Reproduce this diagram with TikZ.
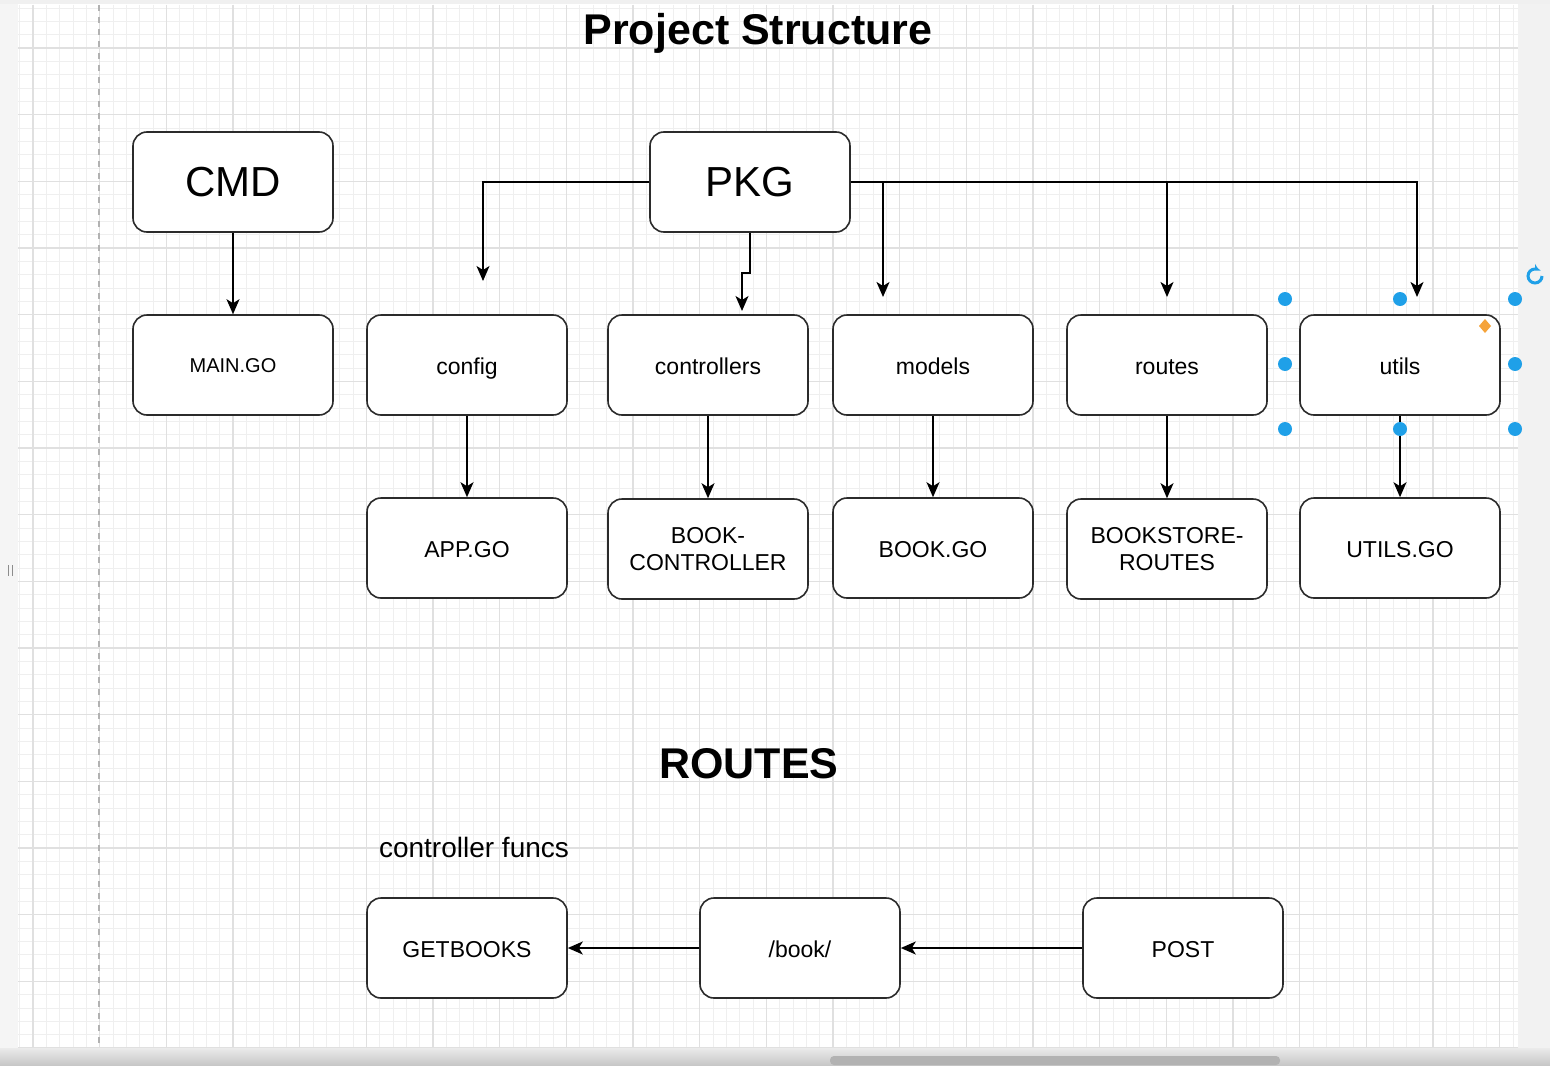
\documentclass[tikz,border=0pt]{standalone}
\usepackage{fontspec}
\setmainfont{Liberation Sans}
\usetikzlibrary{arrows.meta}
\definecolor{gridminor}{HTML}{EFEFEF}
\definecolor{gridmajor}{HTML}{E0E0E0}
\definecolor{boxline}{HTML}{2B2B2B}
\definecolor{handle}{HTML}{1FA0E8}
\definecolor{handleor}{HTML}{F5A33A}
\begin{document}
\begin{tikzpicture}[x=0.5pt,y=-0.5pt,
  box2/.style={draw=boxline,line width=0.8pt,fill=white,rounded corners=7pt,
    minimum width=100pt,minimum height=50pt,inner sep=0pt,align=center,
    font=\fontsize{11.5}{13.5}\selectfont},
  box/.style={box2,text height=11.8pt,text depth=2.44pt},
  bigbox/.style={box,font=\fontsize{21}{24}\selectfont,text height=19pt,text depth=4.45pt},
  smallbox/.style={box,font=\fontsize{10}{12}\selectfont,text height=9.6pt,text depth=2.12pt},
  arr/.style={draw=black,line width=0.75pt,-{Stealth[length=7.5pt,width=6.5pt,inset=2pt]}},
  ttl/.style={font=\fontsize{21.5}{24}\selectfont\bfseries,inner sep=0pt,text height=19.5pt,text depth=4.56pt}]
\useasboundingbox (0,0) rectangle (1550,1065);
% background
\fill[white] (0,0) rectangle (1550,1065);
\fill[black!4] (0,0) rectangle (18,1065);
\fill[black!5] (1518,0) rectangle (1550,1065);
\fill[black!6] (0,0) rectangle (1550,4);
% grid
\foreach \i in {0,...,112} {
  \draw[gridminor,line width=0.45pt] ({19.67+13.333*\i},5) -- ({19.67+13.333*\i},1048);
}
\foreach \j in {0,...,78} {
  \draw[gridminor,line width=0.45pt] (18,{8+13.333*\j}) -- (1518,{8+13.333*\j});
}
\foreach \i in {0,...,22} {
  \draw[gridmajor,line width=0.55pt] ({33+66.667*\i},5) -- ({33+66.667*\i},1048);
}
\foreach \j in {0,...,15} {
  \draw[gridmajor,line width=0.55pt] (18,{48+66.667*\j}) -- (1518,{48+66.667*\j});
}
\draw[black!30,dashed,line width=0.6pt] (99,5) -- (99,1050);
\draw[black!45,line width=0.5pt] (8,565) -- (8,576) (12,565) -- (12,576);
% bottom bar
\shade[top color=black!8,bottom color=black!22] (0,1048) rectangle (1550,1065);
\fill[black!30,rounded corners=2pt] (830,1056) rectangle (1280,1065);

% titles
\node[ttl] (title) at (758,30) {Project Structure};
\node[ttl] (routestitle) at (749,764) {ROUTES};
\node[font=\fontsize{14}{16}\selectfont,inner sep=0pt,text height=12.7pt,text depth=2.97pt] (cf) at (474,848) {controller funcs};

% top boxes
\node[bigbox] (cmd) at (233,182) {CMD};
\node[bigbox] (pkg) at (750,182) {PKG};

% row 1
\node[smallbox] (main) at (233,365) {MAIN.GO};
\node[box] (config) at (467,365) {config};
\node[box] (ctrl) at (708,365) {controllers};
\node[box] (models) at (933,365) {models};
\node[box] (routes) at (1167,365) {routes};
\node[box] (utils) at (1400,365) {utils};

% row 2
\node[box] (app) at (467,548) {APP.GO};
\node[box2] (bookctrl) at (708,549) {BOOK-\\CONTROLLER};
\node[box] (book) at (933,548) {BOOK.GO};
\node[box2] (bsroutes) at (1167,549) {BOOKSTORE-\\ROUTES};
\node[box] (utilsgo) at (1400,548) {UTILS.GO};

% routes row
\node[box] (getbooks) at (467,948) {GETBOOKS};
\node[box] (bookp) at (800,948) {/book/};
\node[box] (post) at (1183,948) {POST};

% coordinates for free arrow ends
\coordinate (tcfg) at (483,281);
\coordinate (tctrl) at (742,311);
\coordinate (tmod) at (883,297);
\coordinate (trou) at (1167,297);
\coordinate (tutil) at (1417,297);
\coordinate (jmod) at (883,182);
\coordinate (jrou) at (1167,182);

% connectors
\draw[arr] (cmd.south) -- (main.north);
\draw[arr] (pkg.west) -| (tcfg);
\draw[arr] (pkg.south) -- ++(0,40) -| (tctrl);
\draw[arr] (pkg.east) -| (tutil);
\draw[arr] (jmod) -- (tmod);
\draw[arr] (jrou) -- (trou);

\draw[arr] (config.south) -- (app.north);
\draw[arr] (ctrl.south) -- (bookctrl.north);
\draw[arr] (models.south) -- (book.north);
\draw[arr] (routes.south) -- (bsroutes.north);
\draw[arr] (utils.south) -- (utilsgo.north);

\draw[arr] (bookp.west) -- (getbooks.east);
\draw[arr] (post.west) -- (bookp.east);

% selection handles on utils
\foreach \p in {(1285,299),(1400,299),(1515,299),(1285,364),(1515,364),(1285,429),(1400,429),(1515,429)} {
  \fill[handle] \p circle (7);
}
\fill[handleor] (1485,319) -- (1491,326) -- (1485,333) -- (1479,326) -- cycle;
\draw[handle,line width=1.5pt,-{Stealth[length=3pt,width=3.5pt]}] (1542,276) arc (0:300:7);
\end{tikzpicture}
\end{document}
